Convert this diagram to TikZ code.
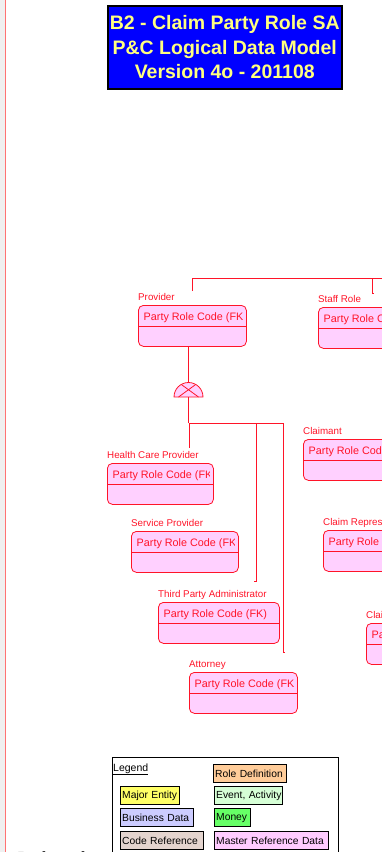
\documentclass[tikz,border=0pt]{standalone}
\usepackage{fontspec}
\setmainfont{Liberation Sans}
\usepackage{tikz}

\definecolor{entfill}{RGB}{255,208,255}
\definecolor{entred}{RGB}{255,20,40}
\definecolor{ttlblue}{RGB}{0,0,255}
\definecolor{ttlyellow}{RGB}{255,255,128}
\definecolor{rolecol}{RGB}{255,204,153}
\definecolor{majorcol}{RGB}{255,255,102}
\definecolor{eventcol}{RGB}{214,255,214}
\definecolor{busicol}{RGB}{204,204,255}
\definecolor{moneycol}{RGB}{102,255,102}
\definecolor{codecol}{RGB}{228,212,206}
\definecolor{mastercol}{RGB}{255,204,255}

\begin{document}
\begin{tikzpicture}[x=1pt,y=-1pt,
  ent/.style={draw=entred,fill=entfill,rounded corners=5pt,minimum height=41pt,inner sep=0pt,line width=0.8pt},
  entline/.style={draw=entred,line width=0.8pt},
  lbl/.style={text=entred,inner sep=0pt,font=\fontsize{9.8}{12}\selectfont},
  key/.style={text=entred,inner sep=0pt,font=\fontsize{10.8}{13}\selectfont},
  conn/.style={draw=entred,line width=0.8pt},
  legitem/.style={draw=black,line width=1.4pt,inner xsep=1.5pt,inner ysep=1pt,minimum height=18pt,anchor=north west,
    align=left,font=\fontsize{10.3}{12}\selectfont}]
\useasboundingbox (0,0) rectangle (382,852);
\clip (0,0) rectangle (382,852);
% left margin strip
\fill[black!6] (0,0) rectangle (5,852);
\draw[red!55,line width=1pt] (5.5,0) -- (5.5,852);
% title
\node[draw=black,line width=1.5pt,fill=ttlblue,text=ttlyellow,align=center,anchor=north west,
  minimum width=234pt,minimum height=83pt,inner sep=0pt,
  font=\bfseries\fontsize{19.5}{24.5}\selectfont] (ttl) at (107,5)
  {B2 - Claim Party Role SA\\P\&C Logical Data Model\\Version 4o - 201108};
% entities
\foreach \n/\x/\y/\w/\lab in {prov/138/305/108/Provider,
  staff/318/307/90/Staff Role,
  hcp/107/463/106/Health Care Provider,
  svc/131/531/107/Service Provider,
  clmt/303/439/100/Claimant,
  crep/323/530/100/Claim Representative,
  cadj/366/623/100/Claim Adjuster,
  tpa/158/602/121/Third Party Administrator,
  atty/189/672/108/Attorney}
{
  \node[ent,minimum width=\w pt,anchor=north west] (\n) at (\x,\y) {};
  \node[lbl,anchor=base west] (\n-l) at ([yshift=5pt]\n.north west) {\lab};
  \draw[entline] ([yshift=-21pt]\n.north west) -- ([yshift=-21pt]\n.north east);
  \begin{scope}
    \clip (\n.north west) rectangle ([xshift=-4pt]\n.south east);
    \node[key,anchor=base west] at ([xshift=5.5pt,yshift=-15pt]\n.north west) {Party Role Code (FK)};
  \end{scope}
}
% top relationship
\coordinate (topl) at (192,291);
\coordinate (topr) at (372,293);
\draw[conn] (topl) -- (topl |- 0,278) -- (390,278);
\draw[conn] (topr |- 0,278) -- (topr) -- ++(2,0);
% subtype symbol
\coordinate (sub) at (188.5,397);
\draw[conn] (sub |- prov.south) -- ([yshift=14.5pt]sub);
\draw[conn,fill=entfill] ([xshift=-14.5pt]sub) arc[start angle=180,end angle=0,radius=14.5pt] -- cycle;
\draw[conn] ([xshift=-10pt]sub) -- ([shift={(60:14.5pt)}]sub);
\draw[conn] ([xshift=10pt]sub) -- ([shift={(120:14.5pt)}]sub);
% subtype connectors
\coordinate (jn) at (189,423);
\coordinate (tpaj) at (256,423);
\coordinate (attj) at (283,423);
\draw[conn,line width=1.6pt] (sub) -- (sub |- jn);
\draw[conn] (sub |- jn) -- (attj);
\draw[conn] (jn) -- ([yshift=3pt]jn |- hcp-l.north);
\draw[conn] (tpaj) -- ([yshift=8pt]tpaj |- tpa-l.north) -- ++(-2,0);
\draw[conn] (attj) -- ([yshift=8pt]attj |- atty-l.north) -- ++(1.5,0);
% legend
\draw[black,line width=0.9pt] (112,757) rectangle (338,870);
\node[anchor=base west,inner sep=0pt,font=\fontsize{10.5}{12}\selectfont] (leg) at (113,771) {\underline{Legend}};
\node[legitem,fill=rolecol,text width=70pt] (role) at (213,764) {\mbox{Role Definition}};
\node[legitem,fill=majorcol,text width=56pt] (major) at (120,786) {\mbox{Major Entity}};
\node[legitem,fill=eventcol,text width=65pt] (event) at (214,786) {\mbox{Event, Activity}};
\node[legitem,fill=busicol,text width=70pt] (busi) at (120,808) {\mbox{Business Data}};
\node[legitem,fill=moneycol,text width=33pt] (money) at (214,808) {\mbox{Money}};
\node[legitem,fill=codecol,text width=80pt] (code) at (120,831) {\mbox{Code Reference}};
\node[legitem,fill=mastercol,text width=111pt] (master) at (214,831) {\mbox{Master Reference Data}};
% deleted note
\node[anchor=base west,inner sep=0pt,font=\bfseries\fontsize{19}{22}\selectfont] (del) at (17,865) {Deleted:};
\end{tikzpicture}
\end{document}
